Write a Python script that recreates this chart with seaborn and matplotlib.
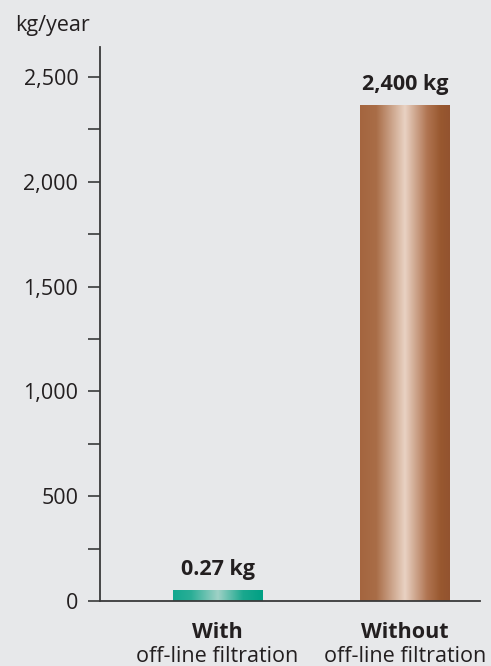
import numpy as np
import pandas as pd
import matplotlib
matplotlib.use("Agg")
import matplotlib.pyplot as plt
from matplotlib.colors import LinearSegmentedColormap
from matplotlib.transforms import blended_transform_factory
import seaborn as sns

# ---- data ----
categories = ["With", "Without"]
sublabels = ["off-line filtration", "off-line filtration"]
bar_heights = [52, 2366]          # drawn heights (kg/year scale)
value_labels = ["0.27 kg", "2,400 kg"]
major_ticks = [0, 500, 1000, 1500, 2000, 2500]
major_labels = ["0", "500", "1,000", "1,500", "2,000", "2,500"]
minor_ticks = [250, 750, 1250, 1750, 2250]

bg = "#e7e8ea"
ink = "#231f20"
axis_col = "#3a3a3a"

sns.set_theme(style="white")
plt.rcParams["font.family"] = ["Open Sans", "DejaVu Sans"]

fig = plt.figure(figsize=(4.91, 6.66), dpi=100, facecolor=bg)
W, H = 491, 666
ax = fig.add_axes([100 / W, 65 / H, 380 / W, 554 / H])
ax.set_facecolor(bg)

df = pd.DataFrame({"cat": categories, "val": bar_heights})
sns.barplot(data=df, x="cat", y="val", ax=ax, width=0.48, color="#999999",
            saturation=1, edgecolor="none")

teal = LinearSegmentedColormap.from_list("teal", [
    (0.0, "#12a88f"), (0.2, "#2aae96"), (0.5, "#9fd1c6"), (0.78, "#1aa88e"), (1.0, "#00a084")])
copper = LinearSegmentedColormap.from_list("copper", [
    (0.0, "#a4653f"), (0.18, "#a96d47"), (0.5, "#e9d2c3"), (0.75, "#b07451"), (0.9, "#98582f"), (1.0, "#935330")])
cmaps = [teal, copper]

grad = np.linspace(0, 1, 256).reshape(1, -1)
for patch, cm in zip(ax.patches, cmaps):
    x0, y0 = patch.get_x(), patch.get_y()
    w, h = patch.get_width(), patch.get_height()
    patch.set_facecolor("none")
    im = ax.imshow(grad, cmap=cm, aspect="auto", extent=[x0, x0 + w, y0, y0 + h],
                   interpolation="bilinear", zorder=2)
    im.set_clip_path(patch)

ax.set_xlim(-0.627, 1.4)
ax.set_ylim(0, 2643)

FS = 15.5

# value labels
for i, (v, lab) in enumerate(zip(bar_heights, value_labels)):
    ax.annotate(lab, (i, v), xytext=(0, 7), textcoords="offset points",
                ha="center", va="bottom", fontsize=FS, fontweight="bold", color=ink)

# axes styling
for s in ["top", "right"]:
    ax.spines[s].set_visible(False)
ax.spines["left"].set_color(axis_col)
ax.spines["bottom"].set_color(axis_col)
ax.spines["left"].set_linewidth(1.3)
ax.spines["bottom"].set_linewidth(1.3)

ax.set_yticks(major_ticks)
ax.set_yticklabels(major_labels)
ax.set_yticks(minor_ticks, minor=True)
ax.tick_params(axis="y", which="both", direction="out", length=8.6, width=1.2,
               color=axis_col, labelsize=FS, labelcolor=ink, pad=7, left=True)
ax.set_xticks([0, 1])
ax.set_xticklabels(["", ""])
ax.tick_params(axis="x", length=0)
ax.set_xlabel("")
ax.set_ylabel("")

# category labels
tr = blended_transform_factory(ax.transData, fig.transFigure)
for i, (c, s) in enumerate(zip(categories, sublabels)):
    ax.text(i, 1 - 632 / H, c, transform=tr, ha="center", va="center",
            fontsize=FS, fontweight="bold", color=ink)
    ax.text(i, 1 - 657 / H, s, transform=tr, ha="center", va="center",
            fontsize=FS, color=ink)

fig.text(15 / W, 1 - 25 / H, "kg/year", ha="left", va="center", fontsize=FS, color=ink)

fig.savefig("out.png", dpi=100, facecolor=bg)
